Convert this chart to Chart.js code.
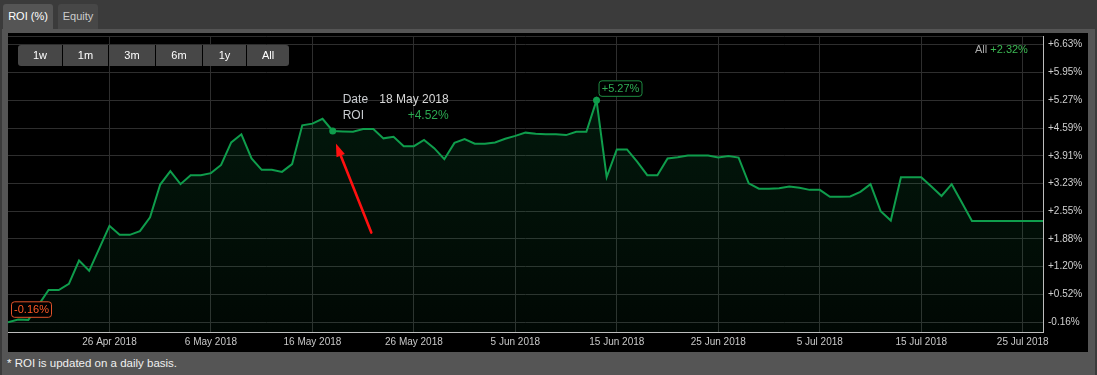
<!DOCTYPE html>
<html><head><meta charset="utf-8">
<script src="https://cdn.jsdelivr.net/npm/chart.js@4.4.1/dist/chart.umd.min.js"></script>
<style>
html,body{margin:0;padding:0;background:#3b3b3b;width:1097px;height:375px;overflow:hidden;font-family:"Liberation Sans",Arial,sans-serif;}
.tab{position:absolute;top:4px;height:25px;line-height:25px;text-align:center;font-size:11px;border-radius:3px 3px 0 0;}
#tab1{left:3px;width:50px;background:#555;color:#fff;}
#tab2{left:58px;width:40px;background:#474747;color:#ccc;}
#panel{position:absolute;left:2px;top:29px;width:1093px;height:346px;background:#555;}
#plot{position:absolute;left:8px;top:33px;width:1080px;height:319px;background:#000;}
#btns{position:absolute;left:18px;top:45px;height:21px;display:flex;gap:1px;z-index:2;}
#btns div{height:21px;line-height:21px;text-align:center;background:#474747;color:#fff;font-size:11px;}
#btns div:first-child{border-radius:3px 0 0 3px;}
#btns div:last-child{border-radius:0 3px 3px 0;}
#summary{position:absolute;left:975px;top:42px;line-height:14px;font-size:11px;color:#aaa;z-index:2;}
#summary span{color:#3cb853;}
#footer{position:absolute;left:7px;top:355px;line-height:16px;font-size:11.5px;color:#f0f0f0;}
</style></head>
<body>
<div class="tab" id="tab1">ROI (%)</div>
<div class="tab" id="tab2">Equity</div>
<div id="panel"></div>
<div id="plot"><canvas id="c" width="1080" height="319"></canvas></div>
<div id="btns"><div style="width:44px">1w</div><div style="width:45px">1m</div><div style="width:46px">3m</div><div style="width:46px">6m</div><div style="width:43px">1y</div><div style="width:42px">All</div></div>
<div id="summary">All <span>+2.32%</span></div>
<div id="footer">* ROI is updated on a daily basis.</div>
<script>
const dates = [
'16 Apr 2018','17 Apr 2018','18 Apr 2018','19 Apr 2018','20 Apr 2018','21 Apr 2018','22 Apr 2018','23 Apr 2018','24 Apr 2018','25 Apr 2018',
'26 Apr 2018','27 Apr 2018','28 Apr 2018','29 Apr 2018','30 Apr 2018',
'1 May 2018','2 May 2018','3 May 2018','4 May 2018','5 May 2018','6 May 2018','7 May 2018','8 May 2018','9 May 2018','10 May 2018',
'11 May 2018','12 May 2018','13 May 2018','14 May 2018','15 May 2018','16 May 2018','17 May 2018','18 May 2018','19 May 2018','20 May 2018',
'21 May 2018','22 May 2018','23 May 2018','24 May 2018','25 May 2018','26 May 2018','27 May 2018','28 May 2018','29 May 2018','30 May 2018','31 May 2018',
'1 Jun 2018','2 Jun 2018','3 Jun 2018','4 Jun 2018','5 Jun 2018','6 Jun 2018','7 Jun 2018','8 Jun 2018','9 Jun 2018','10 Jun 2018',
'11 Jun 2018','12 Jun 2018','13 Jun 2018','14 Jun 2018','15 Jun 2018','16 Jun 2018','17 Jun 2018','18 Jun 2018','19 Jun 2018','20 Jun 2018',
'21 Jun 2018','22 Jun 2018','23 Jun 2018','24 Jun 2018','25 Jun 2018','26 Jun 2018','27 Jun 2018','28 Jun 2018','29 Jun 2018','30 Jun 2018',
'1 Jul 2018','2 Jul 2018','3 Jul 2018','4 Jul 2018','5 Jul 2018','6 Jul 2018','7 Jul 2018','8 Jul 2018','9 Jul 2018','10 Jul 2018',
'11 Jul 2018','12 Jul 2018','13 Jul 2018','14 Jul 2018','15 Jul 2018','16 Jul 2018','17 Jul 2018','18 Jul 2018','19 Jul 2018','20 Jul 2018',
'21 Jul 2018','22 Jul 2018','23 Jul 2018','24 Jul 2018','25 Jul 2018','26 Jul 2018','27 Jul 2018'
];
const roi = [
-0.16,-0.09,-0.10,0.26,0.63,0.63,0.78,1.35,1.10,1.65,
2.20,1.98,1.98,2.07,2.41,3.21,3.54,3.22,3.44,3.44,
3.49,3.69,4.24,4.44,3.85,3.57,3.57,3.52,3.71,4.66,
4.70,4.82,4.52,4.51,4.50,4.57,4.57,4.34,4.38,4.15,
4.15,4.30,4.10,3.83,4.23,4.32,4.21,4.21,4.24,4.33,
4.40,4.48,4.45,4.44,4.44,4.42,4.50,4.50,5.27,3.39,
4.07,4.07,3.77,3.44,3.44,3.85,3.88,3.92,3.92,3.92,
3.87,3.91,3.87,3.24,3.11,3.11,3.12,3.16,3.13,3.08,
3.08,2.91,2.91,2.92,3.03,3.22,2.56,2.33,3.39,3.39,
3.39,3.16,2.93,3.22,2.77,2.32,2.32,2.32,2.32,2.32,
2.32,2.32,2.32
];
const xTickLabels = ['26 Apr 2018','6 May 2018','16 May 2018','26 May 2018','5 Jun 2018','15 Jun 2018','25 Jun 2018','5 Jul 2018','15 Jul 2018','25 Jul 2018'];
const yTicks = [-0.16,0.52,1.20,1.88,2.55,3.23,3.91,4.59,5.27,5.95,6.63];
const tooltipDate = '18 May 2018';
const peakLabelDate = '13 Jun 2018';
const startLabelDate = '16 Apr 2018';

const FONT = '"Liberation Sans", Arial, sans-serif';
const LINE = '#0f9d4c';
const fmt = v => (v >= 0 ? '+' : '') + v.toFixed(2) + '%';

function rrect(ctx, x, y, w, h, r) {
  ctx.beginPath();
  if (ctx.roundRect) ctx.roundRect(x, y, w, h, r); else ctx.rect(x, y, w, h);
}

const overlay = {
  id: 'overlay',
  beforeDatasetsDraw(chart) {
    const {ctx, chartArea: a} = chart;
    ctx.save();
    ctx.strokeStyle = '#2e2e2e'; ctx.lineWidth = 1;
    ctx.beginPath(); ctx.moveTo(a.left, a.top + 0.5); ctx.lineTo(a.right, a.top + 0.5); ctx.stroke();
    ctx.restore();
  },
  afterDatasetsDraw(chart) {
    const {ctx} = chart;
    const xs = chart.scales.x, ys = chart.scales.y;
    ctx.save();
    // start label
    let i = dates.indexOf(startLabelDate);
    let px = xs.getPixelForValue(i), py = ys.getPixelForValue(roi[i]);
    ctx.strokeStyle = '#e0532a'; ctx.lineWidth = 1; ctx.fillStyle = '#000';
    rrect(ctx, px + 3.5, py - 20.5, 40, 15.5, 3); ctx.fill(); ctx.stroke();
    ctx.fillStyle = '#ff5a26'; ctx.font = '11px ' + FONT; ctx.textAlign = 'center'; ctx.textBaseline = 'middle';
    ctx.fillText(fmt(roi[i]), px + 23.5, py - 12.5);
    // peak label
    i = dates.indexOf(peakLabelDate);
    px = xs.getPixelForValue(i); py = ys.getPixelForValue(roi[i]);
    ctx.strokeStyle = '#1e8a40'; ctx.fillStyle = '#000';
    rrect(ctx, px + 2.5, py - 19.5, 43, 15.5, 3); ctx.fill(); ctx.stroke();
    ctx.fillStyle = '#2fae55';
    ctx.fillText(fmt(roi[i]), px + 24, py - 11.5);
    // tooltip
    i = dates.indexOf(tooltipDate);
    px = xs.getPixelForValue(i); py = ys.getPixelForValue(roi[i]);
    ctx.font = '12px ' + FONT; ctx.textAlign = 'left';
    ctx.fillStyle = '#c9ccd0';
    ctx.fillText('Date', px + 10, py - 31.5);
    ctx.fillText('ROI', px + 10, py - 15);
    ctx.textAlign = 'right';
    ctx.fillStyle = '#d8d8d8';
    ctx.fillText(dates[i], px + 116, py - 31.5);
    ctx.fillStyle = '#2aa850';
    ctx.fillText(fmt(roi[i]), px + 116, py - 15);
    // red arrow
    const tx = px + 38.6, ty = py + 101.6, hx = px + 3.2, hy = py + 12.5;
    const ang = Math.atan2(hy - ty, hx - tx);
    const hl = 13, hw = 4.5;
    const bx = hx - hl * Math.cos(ang), by = hy - hl * Math.sin(ang);
    ctx.strokeStyle = '#ff1010'; ctx.lineWidth = 2.6; ctx.lineCap = 'round';
    ctx.beginPath(); ctx.moveTo(tx, ty); ctx.lineTo(bx, by); ctx.stroke();
    ctx.fillStyle = '#ff1010';
    ctx.beginPath();
    ctx.moveTo(hx, hy);
    ctx.lineTo(bx + hw * Math.sin(ang), by - hw * Math.cos(ang));
    ctx.lineTo(bx - hw * Math.sin(ang), by + hw * Math.cos(ang));
    ctx.closePath(); ctx.fill();
    ctx.restore();
  }
};

const markerIdx = [dates.indexOf(tooltipDate), dates.indexOf(peakLabelDate)];

new Chart(document.getElementById('c'), {
  type: 'line',
  data: {
    labels: dates,
    datasets: [{
      data: roi,
      borderColor: LINE,
      borderWidth: 2,
      tension: 0,
      fill: 'start',
      backgroundColor: (ctx) => {
        const a = ctx.chart.chartArea;
        if (!a) return 'rgba(15,157,76,0.12)';
        const g = ctx.chart.ctx.createLinearGradient(0, a.top, 0, a.bottom);
        g.addColorStop(0, 'rgba(15,157,76,0.18)');
        g.addColorStop(1, 'rgba(15,157,76,0.05)');
        return g;
      },
      pointRadius: (ctx) => markerIdx.includes(ctx.dataIndex) ? 3.5 : 0,
      pointBackgroundColor: LINE,
      pointBorderWidth: 0,
      pointHoverRadius: 0
    }]
  },
  options: {
    responsive: false,
    animation: false,
    events: [],
    layout: {padding: {top: 3, left: 0, right: 0, bottom: 0}},
    plugins: {legend: {display: false}, tooltip: {enabled: false}},
    scales: {
      x: {
        type: 'category',
        offset: false,
        grid: {color: '#2e2e2e', drawTicks: false},
        border: {color: '#bdbdbd', width: 1},
        ticks: {autoSkip: false, maxRotation: 0, color: '#c8c8c8', padding: 4, font: {size: 10, family: FONT}},
        afterBuildTicks: (s) => { s.ticks = s.ticks.filter(t => xTickLabels.includes(dates[t.value])); },
        afterFit: (s) => { s.height = 20; s.paddingLeft = 0; s.paddingRight = 0; s.paddingTop = 0; s.paddingBottom = 0; }
      },
      y: {
        position: 'right',
        min: -0.397,
        max: 6.844,
        grid: {color: '#2e2e2e', drawTicks: false},
        border: {color: '#bdbdbd', width: 1},
        ticks: {color: '#d0d0d0', padding: 5, font: {size: 10, family: FONT}, callback: (v) => fmt(v)},
        afterBuildTicks: (s) => { s.ticks = yTicks.map(v => ({value: v})); },
        afterFit: (s) => { s.width = 45; s.paddingTop = 0; s.paddingBottom = 0; s.paddingLeft = 0; s.paddingRight = 0; }
      }
    }
  },
  plugins: [overlay]
});
</script>
</body></html>
